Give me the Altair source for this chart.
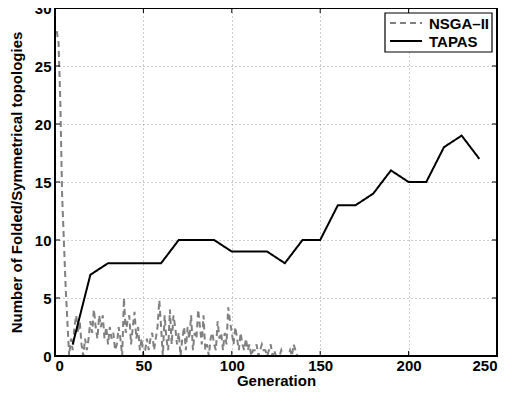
import altair as alt
import pandas as pd

# ---- data ----
nsga_gen = list(range(1, 138))
nsga_val = [
    28, 27, 22, 14, 10, 6, 3, 0, 1.5, 0.5,
    2.5, 3.5, 2, 3, 1, 0, 1.5, 0.5, 1.5, 3,
    2, 4, 2.5, 1.5, 3.5, 2.5, 3.5, 1.5, 2.5, 1,
    2.5, 1.5, 2, 0.5, 1, 2.5, 1.5, 0, 5, 2,
    3, 3.5, 1, 2.5, 3.8, 1.5, 2.5, 0.5, 1.5, 0,
    0.5, 1.5, 0.5, 1.5, 2, 0.5, 1.5, 2.5, 4.8, 2.5,
    0, 3.5, 1.5, 0.5, 4, 1, 3.5, 2.5, 1, 2,
    0, 1.5, 2.5, 0.5, 2.5, 1.5, 3.5, 0.5, 2, 1.5,
    4, 2.5, 1, 3.5, 0.5, 1, 0, 1.5, 2, 1,
    0.5, 3, 1.5, 2, 0.5, 2, 1, 4.2, 3, 2,
    1, 2.5, 1.5, 0.5, 2, 1, 0.5, 1.5, 0.5, 1,
    0, 0.5, 0.5, 1, 0, 0.5, 1, 0.5, 0.5, 0,
    0.5, 1, 0, 0.5, 0, 0, 0, 0.5, 0, 0,
    0, 0, 0.5, 0, 1, 0.5, 0,
]
tapas_gen = list(range(10, 250, 10))
tapas_val = [1, 7, 8, 8, 8, 8, 10, 10, 10, 9, 9, 9, 8, 10, 10,
             13, 13, 14, 16, 15, 15, 18, 19, 17]
series_names = ["NSGA\u2013II", "TAPAS"]
series_colors = ["#808080", "#000000"]
series_dash = [[6, 4], [1, 0]]
x_ticks = [0, 50, 100, 150, 200, 250]
y_ticks = [0, 5, 10, 15, 20, 25, 30]

W, H = 442, 348
FONT = "Liberation Sans"

df = pd.concat([
    pd.DataFrame({"gen": nsga_gen, "value": nsga_val, "series": series_names[0]}),
    pd.DataFrame({"gen": tapas_gen, "value": tapas_val, "series": series_names[1]}),
], ignore_index=True)

xenc = alt.X("gen:Q", scale=alt.Scale(domain=[0, 250], nice=False, zero=False),
             axis=alt.Axis(values=x_ticks, title="Generation", grid=True,
                           labelPadding=2, titlePadding=0, format="d"))
yenc = alt.Y("value:Q", scale=alt.Scale(domain=[0, 30], nice=False),
             axis=alt.Axis(values=y_ticks, title="Number of Folded/Symmetrical topologies",
                           grid=True, labelPadding=4, titlePadding=10, format="d"))

lines = alt.Chart(df).mark_line(strokeWidth=2).encode(
    x=xenc, y=yenc,
    color=alt.Color("series:N", scale=alt.Scale(domain=series_names,
                                                range=series_colors), legend=None),
    strokeDash=alt.StrokeDash("series:N", scale=alt.Scale(domain=series_names,
                                                          range=series_dash), legend=None),
    order=alt.Order("gen:Q"),
)

xt = pd.DataFrame({"gen": x_ticks})
yt = pd.DataFrame({"value": y_ticks})
tick_b = alt.Chart(xt).mark_rule(color="black", strokeWidth=1).encode(
    x=xenc, y=alt.value(H), y2=alt.value(H - 5))
tick_t = alt.Chart(xt).mark_rule(color="black", strokeWidth=1).encode(
    x=xenc, y=alt.value(0), y2=alt.value(5))
tick_l = alt.Chart(yt).mark_rule(color="black", strokeWidth=1).encode(
    y=yenc, x=alt.value(0), x2=alt.value(5))
tick_r = alt.Chart(yt).mark_rule(color="black", strokeWidth=1).encode(
    y=yenc, x=alt.value(W), x2=alt.value(W - 5))

frame = alt.Chart(pd.DataFrame({"k": [0]})).mark_rect(
    fillOpacity=0, stroke="black", strokeWidth=2).encode(
    x=alt.value(0), x2=alt.value(W), y=alt.value(0), y2=alt.value(H))

# manual legend (MATLAB style box)
LX0, LX1, LY0, LY1 = 330, 437, 5, 44
leg_box = alt.Chart(pd.DataFrame({"k": [0]})).mark_rect(
    fill="white", stroke="black", strokeWidth=1.2).encode(
    x=alt.value(LX0), x2=alt.value(LX1), y=alt.value(LY0), y2=alt.value(LY1))
leg_layers = [leg_box]
for i, name in enumerate(series_names):
    ry = 15 + 18 * i
    d = pd.DataFrame({"series": [name]})
    leg_layers.append(alt.Chart(d).mark_rule(
        color=series_colors[i], strokeWidth=2, strokeDash=series_dash[i]).encode(
        x=alt.value(LX0 + 5), x2=alt.value(LX0 + 37), y=alt.value(ry)))
    leg_layers.append(alt.Chart(d).mark_text(
        align="left", baseline="middle", font=FONT, fontSize=15,
        fontWeight="bold", color="black").encode(
        x=alt.value(LX0 + 44), y=alt.value(ry + 1), text="series:N"))

chart = alt.layer(lines, tick_b, tick_t, tick_l, tick_r, frame, *leg_layers).properties(
    width=W, height=H,
    autosize=alt.AutoSizeParams(type="none"),
    padding={"left": 47, "top": 0, "right": 10, "bottom": 32},
).configure_view(stroke=None).configure_axis(
    domain=False, ticks=False, tickSize=0,
    gridColor="#9a9a9a", gridDash=[1, 3], gridWidth=1, gridOpacity=1,
    labelFont=FONT, labelFontSize=15, labelFontWeight="bold", labelColor="black",
    titleFont=FONT, titleFontSize=15, titleFontWeight="bold", titleColor="black",
)

chart.save("out.html", embed_options={"renderer": "svg", "actions": False})
